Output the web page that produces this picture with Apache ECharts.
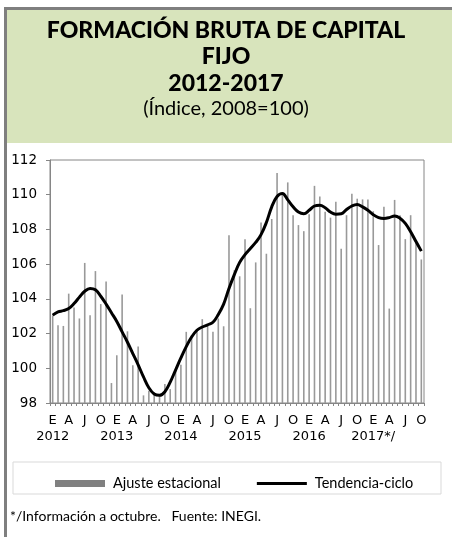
<!DOCTYPE html>
<html>
<head>
<meta charset="utf-8">
<script src="https://cdn.jsdelivr.net/npm/echarts@6/dist/echarts.min.js"></script>
<style>
  html, body { margin: 0; padding: 0; background: #fff; }
  #chart { width: 452px; height: 537px; }
</style>
</head>
<body>
<div id="chart"></div>
<script>
// letras de mes y etiquetas de año
const monthLetters = ['E', 'F', 'M', 'A', 'M', 'J', 'J', 'A', 'S', 'O', 'N', 'D'];
const yearLabels = ['2012', '2013', '2014', '2015', '2016', '2017*/'];
const monthsShown = 70; // ene 2012 - oct 2017

// Ajuste estacional (barras)
const ajusteEstacional = [
  103.05, 102.48, 102.44, 104.3, 103.5, 102.87, 106.07, 103.05, 105.6, 103.7, 105.0, 99.15,
  100.75, 104.25, 102.13, 100.17, 101.25, 98.44, 98.7, 98.6, 98.5, 99.1, 98.8, 99.85,
  100.2, 102.1, 101.9, 102.2, 102.83, 102.45, 102.1, 102.87, 102.42, 107.67, 105.65, 105.3,
  107.44, 103.46, 106.1, 108.4, 106.6, 108.6, 111.25, 110.0, 110.71, 108.82, 108.25, 107.9,
  108.88, 110.51, 109.9, 109.02, 108.68, 109.6, 106.88, 108.82, 110.06, 109.77, 109.73, 109.72,
  109.05, 107.1, 109.3, 103.44, 109.7, 108.82, 107.44, 108.82, 107.3, 106.27
];

// Tendencia-ciclo (línea)
const tendenciaCiclo = [
  103.06, 103.25, 103.32, 103.44, 103.73, 104.1, 104.44, 104.6, 104.52, 104.15, 103.7, 103.2,
  102.7, 102.1, 101.5, 100.85, 100.2, 99.5, 98.88, 98.52, 98.44, 98.65, 99.2, 99.9,
  100.6, 101.25, 101.8, 102.19, 102.38, 102.5, 102.65, 103.1, 103.7, 104.6, 105.4, 106.1,
  106.55, 106.9, 107.25, 107.7, 108.4, 109.3, 109.9, 110.07, 109.7, 109.3, 109.0, 108.9,
  109.1, 109.35, 109.4, 109.25, 109.0, 108.88, 108.9, 109.15, 109.35, 109.44, 109.3, 109.1,
  108.85, 108.68, 108.63, 108.68, 108.78, 108.65, 108.35, 107.87, 107.3, 106.75
];

const monthCats = [];
const yearCats = [];
for (let i = 0; i < monthsShown; i++) {
  monthCats.push(monthLetters[i % 12]);
  yearCats.push(i % 12 === 0 ? yearLabels[Math.floor(i / 12)] : '');
}

const chart = echarts.init(document.getElementById('chart'));

const axisGray = '#868686';
const txtFont = 'Lato, "Open Sans", sans-serif';

const option = {
  animation: false,
  backgroundColor: '#fff',
  graphic: [
    // marco
    { type: 'rect', shape: { x: 7, y: 10, width: 445, height: 133 }, style: { fill: '#d8e4bc' }, z: 0 },
    { type: 'rect', shape: { x: 4, y: 7, width: 448, height: 3 }, style: { fill: '#7f7f7f' }, z: 1 },
    { type: 'rect', shape: { x: 4, y: 7, width: 3, height: 530 }, style: { fill: '#7f7f7f' }, z: 1 },
    // titulo
    { type: 'text', left: 'center', top: 19, style: { text: 'FORMACIÓN BRUTA DE CAPITAL', font: '900 23px ' + txtFont, fill: '#000' }, z: 2 },
    { type: 'text', left: 'center', top: 45, style: { text: 'FIJO', font: '900 23px ' + txtFont, fill: '#000' }, z: 2 },
    { type: 'text', left: 'center', top: 72, style: { text: '2012-2017', font: '900 23px ' + txtFont, fill: '#000' }, z: 2 },
    { type: 'text', left: 'center', top: 99, style: { text: '(Índice, 2008=100)', font: '20px ' + txtFont, fill: '#000' }, z: 2 },
    // caja de la leyenda
    { type: 'rect', shape: { x: 13, y: 462, width: 428, height: 32 }, style: { fill: 'none', stroke: '#d9d9d9', lineWidth: 1 }, z: 1 },
    // nota
    { type: 'text', left: 10, top: 509, style: { text: '*/Información a octubre.   Fuente: INEGI.', font: '14px ' + txtFont, fill: '#000' }, z: 2 }
  ],
  grid: {
    left: 50, right: 28, top: 160, bottom: 134,
    show: true, borderColor: axisGray, borderWidth: 1, backgroundColor: 'transparent'
  },
  legend: {
    top: 471,
    left: 50,
    itemWidth: 50,
    itemHeight: 7,
    itemGap: 36,
    selectedMode: false,
    textStyle: { fontFamily: txtFont, fontSize: 14.5, color: '#000', padding: [0, 0, 0, 3] },
    data: [
      { name: 'Ajuste estacional', icon: 'rect', itemStyle: { color: '#808080' } },
      // linea de 3px centrada en una caja de 7px de alto
      { name: 'Tendencia-ciclo', icon: 'path://M0,0L0.01,0L0.01,0.01Z M0,2H50V5H0Z M0,7L0.01,7L0.01,6.99Z', itemStyle: { color: '#000' } }
    ]
  },
  xAxis: [
    {
      type: 'category',
      data: monthCats,
      boundaryGap: true,
      axisLine: { lineStyle: { color: axisGray } },
      axisTick: { show: true, interval: 0, length: 3, lineStyle: { color: axisGray } },
      axisLabel: {
        interval: function (i) { return i % 3 === 0; },
        margin: 11,
        fontFamily: 'DejaVu Sans',
        fontSize: 13,
        color: '#000'
      }
    },
    {
      type: 'category',
      data: yearCats,
      position: 'bottom',
      offset: 16,
      boundaryGap: true,
      axisLine: { show: false },
      axisTick: { show: false },
      axisLabel: {
        interval: 0,
        margin: 11,
        fontFamily: 'DejaVu Sans',
        fontSize: 13,
        color: '#000'
      }
    }
  ],
  yAxis: {
    type: 'value',
    min: 98,
    max: 112,
    interval: 2,
    splitLine: { show: false },
    axisLine: { show: true, lineStyle: { color: axisGray } },
    axisTick: { show: true, length: 4, lineStyle: { color: axisGray } },
    axisLabel: { margin: 13, fontFamily: 'DejaVu Sans', fontSize: 13.5, color: '#000' }
  },
  series: [
    {
      name: 'Ajuste estacional',
      type: 'bar',
      data: ajusteEstacional,
      barWidth: 1.6,
      itemStyle: { color: '#999999' },
      z: 2
    },
    {
      name: 'Tendencia-ciclo',
      type: 'line',
      data: tendenciaCiclo,
      smooth: 0.4,
      symbol: 'none',
      showSymbol: false,
      lineStyle: { color: '#000', width: 3 },
      itemStyle: { color: '#000' },
      z: 3
    }
  ]
};

chart.setOption(option);
</script>
</body>
</html>
